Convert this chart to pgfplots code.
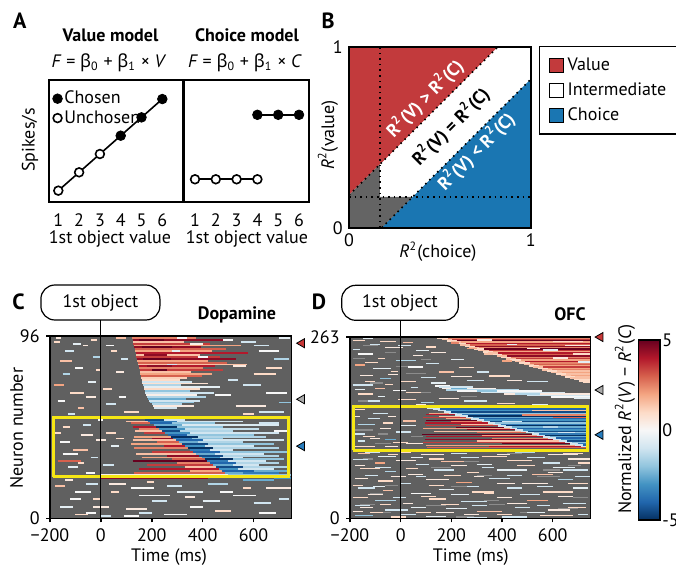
\documentclass[border=0pt]{standalone}
\usepackage{fontspec}
\setmainfont{PT Sans}
\newfontfamily\grk{Noto Sans}
\usepackage{pgfplots}
\pgfplotsset{compat=1.18}
\definecolor{vred}{RGB}{194,58,60}
\definecolor{cblue}{RGB}{26,118,178}
\definecolor{bgray}{RGB}{100,100,100}
\definecolor{hgray}{RGB}{96,96,96}
\definecolor{ngray}{RGB}{140,140,140}
\definecolor{hyel}{RGB}{245,230,20}
\definecolor{trired}{RGB}{200,55,55}
\definecolor{trigray}{RGB}{170,170,170}
\definecolor{triblue}{RGB}{40,125,190}
\pgfplotsset{
  /pgf/number format/assume math mode=true,
  colormap={rdbu}{rgb255=(5,48,97) rgb255=(33,102,172) rgb255=(67,147,195) rgb255=(146,197,222) rgb255=(209,229,240) rgb255=(247,247,247) rgb255=(253,219,199) rgb255=(244,165,130) rgb255=(214,96,77) rgb255=(178,24,43) rgb255=(103,0,31)},
  hm/.style={scale only axis, anchor=south west, xmin=-200, xmax=750,
    axis background/.style={fill=hgray}, axis on top, tick align=outside,
    major tick length=2pt, xtick={-200,0,200,400,600},
    xticklabels={−200,0,200,400,600}, xtick pos=left, ytick pos=left,
    axis line style={line width=0.8pt}, tick style={line width=0.8pt, black},
    colormap name=rdbu, point meta min=-5, point meta max=5, clip=false},
  seg/.style={mark=none, point meta=explicit, quiver={u=\thisrow{u}, v=0, colored}},
  gseg/.style={mark=none, draw=ngray, quiver={u=\thisrow{u}, v=0}},
  tri/.style={only marks, mark=triangle*, mark size=2.6pt, mark options={rotate=90, draw=none, fill=#1}},
}
\begin{document}
\fontsize{9}{10.5}\selectfont
\begin{tikzpicture}
\path[use as bounding box] (0,0) rectangle (338pt,-284pt);

% ---------- Panel A : value model ----------
\begin{axis}[scale only axis, anchor=south west, at={(24.5pt,-101pt)},
  width=66.85pt, height=61pt, xmin=0.553, xmax=6.98, ymin=0.38, ymax=7.04,
  xtick={1,...,6}, ytick=\empty, major tick length=0pt,
  axis line style={line width=0.9pt}, xticklabel style={yshift=-2.5pt},
  legend style={at={(0.025,0.93)}, anchor=north west, draw=none, fill=none,
    inner sep=0pt, row sep=0pt, nodes={inner sep=1pt}},
  legend cell align=left,
  legend image code/.code={\draw[#1] plot coordinates {(2.3pt,0pt)};}]
\addplot[black, line width=0.8pt, forget plot] coordinates {(1,1)(2,2)(3,3)(4,4)(5,5)(6,6)};
\addplot[only marks, mark=*, mark size=2.4pt, black] coordinates {(4,4)(5,5)(6,6)};
\addlegendentry{Chosen}
\addplot[only marks, mark=*, mark size=2.2pt, mark options={fill=white, draw=black, line width=0.8pt}] coordinates {(1,1)(2,2)(3,3)};
\addlegendentry{Unchosen}
\end{axis}

% ---------- Panel A : choice model ----------
\begin{axis}[scale only axis, anchor=south west, at={(92.25pt,-101pt)},
  width=62.4pt, height=61pt, xmin=0.495, xmax=6.495, ymin=0.38, ymax=7.04,
  xtick={1,...,6}, ytick=\empty, major tick length=0pt,
  axis line style={line width=0.9pt}, xticklabel style={yshift=-2.5pt}]
\addplot[black, line width=0.8pt] coordinates {(1,1.62)(2,1.62)(3,1.62)(4,1.62)};
\addplot[black, line width=0.8pt] coordinates {(4,5.14)(5,5.14)(6,5.14)};
\addplot[only marks, mark=*, mark size=2.2pt, mark options={fill=white, draw=black, line width=0.8pt}] coordinates {(1,1.62)(2,1.62)(3,1.62)(4,1.62)};
\addplot[only marks, mark=*, mark size=2.4pt, black] coordinates {(4,5.14)(5,5.14)(6,5.14)};
\end{axis}

% ---------- Panel B ----------
\begin{axis}[scale only axis, anchor=south west, at={(174.5pt,-113.85pt)},
  width=90.85pt, height=90.5pt, xmin=0, xmax=1, ymin=0, ymax=1,
  xtick={0,1}, ytick={0,1}, major tick length=0pt, axis on top,
  axis line style={line width=0.9pt},
  legend style={at={(1,1)}, anchor=north west, xshift=4pt, yshift=0.5pt,
    draw=black, line width=0.8pt, inner xsep=4.5pt, inner ysep=3.5pt, row sep=0.8pt},
  legend cell align=left]
\addplot[fill=vred, draw=none, forget plot] coordinates {(0,0.18)(0,1)(0.82,1)(0,0.18)};
\addplot[fill=cblue, draw=none, forget plot] coordinates {(0.18,0)(1,0)(1,0.82)(0.18,0)};
\addplot[fill=bgray, draw=none, forget plot] coordinates {(0,0)(0,0.18)(0.17,0.35)(0.17,0.17)(0.35,0.17)(0.18,0)(0,0)};
\addplot[black, dotted, line width=0.8pt, forget plot] coordinates {(0.17,0)(0.17,1)};
\addplot[black, dotted, line width=0.8pt, forget plot] coordinates {(0,0.17)(1,0.17)};
\addplot[black, dotted, line width=0.8pt, forget plot] coordinates {(0,0.18)(0.82,1)};
\addplot[black, dotted, line width=0.8pt, forget plot] coordinates {(0.18,0)(1,0.82)};
\node[rotate=45, text=white, font=\bfseries] at (axis cs:0.418,0.714) {R\textsuperscript{2}(V) > R\textsuperscript{2}(C)};
\node[rotate=45, text=black, font=\bfseries] at (axis cs:0.56,0.558) {R\textsuperscript{2}(V) = R\textsuperscript{2}(C)};
\node[rotate=45, text=white, font=\bfseries] at (axis cs:0.70,0.42) {R\textsuperscript{2}(V) < R\textsuperscript{2}(C)};
\addlegendimage{legend image code/.code={\draw[fill=vred, draw=black, line width=0.6pt] (0pt,-3.5pt) rectangle (7pt,3.5pt);}}
\addlegendentry{Value}
\addlegendimage{legend image code/.code={\draw[fill=white, draw=black, line width=0.6pt] (0pt,-3.5pt) rectangle (7pt,3.5pt);}}
\addlegendentry{Intermediate}
\addlegendimage{legend image code/.code={\draw[fill=cblue, draw=black, line width=0.6pt] (0pt,-3.5pt) rectangle (7pt,3.5pt);}}
\addlegendentry{Choice}
\end{axis}

% ---------- Panel C : Dopamine ----------
\begin{axis}[hm, at={(25pt,-259.15pt)}, width=120.85pt, height=91.15pt,
  ymin=0, ymax=96, ytick={0,96}]
\addplot[seg, line width=0.95pt] table[meta=m] {
x y u m
120 96 330 4
122 95 250 2.5
125 94 380 4.5
126 93 200 1.5
128 92 300 3.5
130 91 420 2
132 90 260 4.5
133 89 360 3
135 88 300 2
137 87 440 4
138 86 250 1.5
140 85 330 3.5
142 84 390 4.5
143 83 280 2
145 82 350 3
146 81 430 1.5
148 80 300 4
150 79 250 2.5
152 78 330 3.5
153 77 200 1.5
155 76 280 2
157 75 240 3
158 74 180 1.2
160 73 150 1
150 94 100 5
160 90 120 5
170 86 90 4.5
165 84 110 5
180 80 100 4.5
200 78 60 5
300 95 40 0
350 92 50 0.3
280 88 30 -0.5
380 85 40 0
260 81 40 -1
160 72 200 -1
162 71 260 0.8
165 70 150 -1.5
168 69 300 -0.5
170 68 220 1
172 67 180 -2
175 66 270 -1
178 65 200 0.3
182 64 230 -1.5
186 63 150 -2.5
190 62 200 -1
195 61 170 -2
200 60 120 -1.5
205 59 160 0.5
210 58 90 -1
130 53 30 2
162 53 98 -3
260 53 160 -1.5
173 52 77 -4.5
250 52 80 -1
100 51 84 1.5
184 51 116 -3.5
300 51 260 -1
120 50 75 3
195 50 85 -4
280 50 170 -2
207 49 113 -2.5
320 49 380 -0.8
125 48 93 4
218 48 82 -5
300 48 180 -2
150 47 79 2.5
229 47 101 -3
330 47 290 -1.2
135 46 105 1.5
240 46 70 -4.5
310 46 210 -1.5
170 45 81 3.5
251 45 99 -3
350 45 350 -1
262 44 78 -4
340 44 260 -2
130 43 144 2
274 43 106 -5
380 43 270 -1.5
200 42 85 4.5
285 42 75 -3.5
360 42 120 -2
125 41 171 1.5
296 41 104 -4
400 41 320 -1
220 40 87 3
307 40 73 -2.5
380 40 180 -1.5
120 39 198 2
318 39 102 -4.5
420 39 260 -2
250 38 80 4
330 38 80 -3
410 38 190 -1
130 37 211 2.5
341 37 99 -5
440 37 260 -1.5
352 36 78 -3.5
430 36 90 -1
200 35 163 3.5
363 35 107 -4
470 35 270 -2
140 34 234 1.5
374 34 76 -2.5
450 34 190 -1
260 33 126 4.5
386 33 94 -4.5
480 33 220 -1.5
160 32 237 2
397 32 73 -3
470 32 90 -1
280 31 128 3
408 31 112 -5
520 31 200 -2
125 30 294 5
419 30 81 -3.5
500 30 150 -1
300 29 130 2.5
430 29 100 -4
530 29 170 -1.5
180 28 262 3.5
442 28 78 -2.5
520 28 100 -1
330 27 123 1.5
453 27 107 -4.5
560 27 180 -1.5
150 26 314 4
464 26 76 -3
540 26 140 -1
350 25 125 2
475 25 125 -4
600 25 145 -2.5
130 24 356 3
486 24 74 -2.5
560 24 140 -3.5
0 23 500 0.3
500 23 250 -2
0 22 420 1
0 21 420 4.5
-185 93 25 1
-140 88 35 -1
-70 91 20 0.5
-160 83 45 1.5
-100 79 30 0
-30 85 25 -1.5
-185 70 40 2
-120 66 55 1
-50 72 30 -0.5
10 68 35 1
-170 62 30 0
-90 58 25 1.5
20 60 40 -1
60 77 30 0.5
40 88 25 1
550 93 60 -1
620 88 80 0
680 84 60 -1.5
520 80 50 0.5
600 76 90 1
560 70 70 -1
650 66 80 0
700 61 50 -2
530 59 120 0.5
620 56 100 -1
-150 48 30 1
-80 44 50 0.5
-160 40 40 0
-110 36 60 1.5
-40 32 30 -1
-170 30 90 3
-130 27 40 -0.5
-60 24 35 0
20 45 40 1
40 38 30 -0.5
-180 17 40 1.5
-100 14 60 0
-30 10 30 1
-160 6 50 -0.5
-60 3 40 0
30 18 70 0.5
120 16 90 0
150 12 120 0
200 9 60 -1
100 5 80 0.5
250 2 90 0
300 14 100 -0.5
420 18 80 -1.5
520 12 90 0
600 8 70 -1
650 16 100 0.5
560 20 120 -2.5
680 21 70 -3
450 4 60 1
350 6 50 0
90 1 60 0
-175 95 20 0.5
-110 92 30 -0.5
-40 94 25 1
20 91 30 0
60 95 40 1.5
80 84 25 -1
-20 78 20 1
-150 76 30 -1.5
-60 64 40 0.5
70 64 30 0
90 56 60 1
-130 55 30 -1
-10 52 20 0
-180 45 25 1
-70 49 30 -1
-20 41 40 0.5
60 42 30 1
-150 34 60 0
-90 29 25 1
10 28 40 -1
-140 20 30 0.5
-60 18 50 -1
40 14 30 1
-120 10 40 0
-30 6 60 0.5
180 19 30 1
260 17 60 -1
330 11 40 0.5
400 9 70 -0.5
470 14 50 0
560 16 30 1
700 10 40 -1
620 3 70 0
150 3 50 -1
480 94 40 0
600 91 60 -1
700 95 45 -0.5
650 79 60 1
500 73 40 -1
450 65 60 0
620 50 80 -1
680 46 50 0
560 55 40 1
-100 2 50 1
0 1 40 -1
};
\addplot[hyel, line width=1.5pt] coordinates {(-187,21.9)(736,21.9)(736,53.2)(-187,53.2)(-187,21.9)};
\addplot[black, line width=0.6pt] coordinates {(0,0)(0,104.4)};
\addplot[tri=trired] coordinates {(790,92.2)};
\addplot[tri=trigray] coordinates {(790,62.7)};
\addplot[tri=triblue] coordinates {(790,38)};
\end{axis}

% ---------- Panel D : OFC ----------
\begin{axis}[hm, at={(175pt,-259.15pt)}, width=120.35pt, height=90.8pt,
  ymin=0, ymax=263, ytick={0,263}]
\addplot[gseg, line width=0.6pt] table {
x y u
-150 250 60
-60 240 40
20 210 80
-120 196 50
60 182 60
-40 162 40
120 150 30
-180 128 70
40 118 50
-100 108 60
-150 86 40
120 74 80
300 62 60
-60 48 50
200 46 90
480 34 70
-160 20 60
100 18 80
350 20 60
620 14 80
-90 8 50
220 2 70
540 60 90
660 76 50
420 94 60
-190 232 50
-20 220 60
80 230 40
-170 170 50
240 176 60
-90 122 40
30 100 70
250 82 60
560 70 70
-120 36 50
330 26 60
470 8 80
680 30 60
};
\addplot[seg, line width=0.6pt] table[meta=m] {
x y u m
-190 258 50 1
-120 252 40 -1
-60 247 70 0.5
10 255 40 1.5
60 243 50 -0.5
-170 238 60 0
-90 232 30 1
-20 228 80 -1.5
50 236 40 0.5
-180 222 40 2
-110 217 70 -0.5
-40 213 30 1
30 219 60 0
100 224 50 -1
150 212 60 1.5
200 205 80 0.5
260 200 70 -1
-160 207 50 0.5
-80 202 40 -2
0 198 60 1
-190 193 80 -1
-100 188 40 1.5
-30 185 50 0
40 190 30 -1
-170 180 60 1
-90 176 30 -0.5
-10 172 70 1
80 168 50 -1.5
150 174 80 0.5
250 170 90 -1
380 166 70 1
520 164 60 -0.5
-180 158 40 1
-110 152 60 -1
-50 147 30 0.5
10 141 50 1.5
-170 136 70 -1.5
-80 130 40 0.5
-20 125 60 -1
-150 119 50 1
-60 114 40 -2.5
20 108 70 0.5
-180 104 80 1
-100 100 40 -1
-170 94 50 1.5
-90 90 70 -0.5
0 96 40 1
80 92 90 0.5
200 94 60 -1
320 90 100 1
450 96 80 -1.5
580 92 120 0.5
-190 85 60 -1
-100 80 40 2
-20 84 80 0.5
60 78 50 -1
160 82 90 1.5
300 78 60 -0.5
420 84 100 1
560 80 70 -1
660 86 90 0.5
-160 72 80 1
-60 68 40 -1.5
30 64 60 0.5
130 70 80 -1
260 66 50 1
380 70 120 -0.5
520 64 80 1.5
640 70 100 -1
-180 58 50 0.5
-90 54 60 1
0 50 40 -1
100 56 90 0.5
220 52 60 2
350 58 80 -1
480 50 100 0.5
620 56 60 -1.5
-170 44 70 -1
-70 40 40 1.5
40 36 80 0
150 42 60 -0.5
280 38 90 1
420 44 60 -1
560 38 120 1
680 44 60 -0.5
-190 30 60 1
-100 26 80 -1.5
10 22 40 0.5
110 28 70 1
240 24 100 -1
380 30 60 0.5
500 26 80 2
640 22 90 -1
-160 16 50 0.5
-60 12 90 -1
60 8 60 1
180 14 80 -0.5
300 10 100 1.5
450 16 60 -1
580 12 90 0.5
700 6 40 -1
-180 4 70 -2
-40 2 60 1
100 3 80 -0.5
250 5 60 0.5
400 2 100 -1
550 4 70 1
-150 261 40 -0.5
-80 256 60 1
-10 250 50 -1
60 262 30 0.5
100 248 40 1
-190 244 30 -1
120 240 60 0.5
-140 226 50 1
200 230 50 -0.5
230 218 60 1
300 212 50 -1
-50 208 40 0.5
80 204 60 -1
350 206 80 1
420 200 60 0.5
500 198 80 -1
-140 198 40 1
120 196 60 -0.5
-60 194 30 1
-180 186 40 -0.5
20 182 60 1
-130 170 50 -1
60 164 40 0.5
-190 148 30 0.5
-130 144 50 -1
-70 138 40 1
0 134 60 -0.5
-190 122 50 -1
-120 116 40 0.5
-30 110 60 1
-170 112 30 -1
-60 104 50 0.5
-140 96 60 -1
-50 92 40 1
40 88 50 -0.5
110 86 60 1
240 88 70 -1
380 92 50 0.5
500 88 70 -1
640 94 80 1
-180 76 40 0.5
-100 74 60 -1
20 72 50 1
200 76 60 0.5
320 74 50 -1
460 76 70 1
600 74 90 -0.5
700 80 50 1
-140 62 50 -1
-40 60 60 0.5
60 60 40 -1
170 62 70 1
290 60 40 0.5
420 62 60 -1
580 66 60 0.5
690 60 60 -1
-190 48 40 1
-110 46 50 -0.5
110 48 60 1
260 46 50 -1
380 50 70 0.5
540 46 60 -1
660 50 80 1
-130 34 60 0.5
-30 30 50 -1
80 32 60 1
200 34 70 -0.5
330 36 40 1
470 34 80 -1
620 32 60 0.5
-180 18 60 -1
-80 20 40 1
40 16 60 -0.5
160 20 70 1
280 18 60 -1
420 22 80 0.5
540 18 50 -1
660 16 70 1
-120 8 50 1
0 6 60 -1
140 8 70 0.5
260 1 80 -1
380 6 60 1
500 8 70 -0.5
620 4 60 1
-190 10 40 0.5
};
\addplot[seg, line width=0.8pt] table[meta=m] {
x y u m
127 263 40 1.5
167 263 583 4.5
145 261 40 1
185 261 565 2.5
163 259 40 1.5
203 259 547 3.5
181 257 40 1
221 257 529 5
199 255 40 1.5
239 255 511 2
217 253 40 1
257 253 493 4
235 251 40 1.5
275 251 475 3
253 249 40 1
293 249 457 4.5
271 247 40 1.5
311 247 439 2.5
289 245 40 1
329 245 421 5
307 243 40 1.5
347 243 403 3.5
325 241 40 1
365 241 385 2
343 239 40 1.5
383 239 367 4
361 237 40 1
401 237 349 3
379 235 40 1.5
419 235 331 4.5
397 233 40 1
437 233 313 2.5
415 231 40 1.5
455 231 295 3.5
433 229 40 1
473 229 277 2
451 227 40 1.5
491 227 259 4
469 225 40 1
509 225 241 2.5
487 223 40 1.5
527 223 223 3
505 221 40 1
545 221 205 2
523 219 40 1.5
563 219 187 3.5
541 217 40 1
581 217 169 2
559 215 40 1.5
599 215 151 2.5
577 213 40 1
617 213 133 1.5
595 211 40 1.5
635 211 115 2
613 209 40 1
653 209 97 1.5
631 207 40 1.5
671 207 79 2
649 205 40 1
689 205 61 1.5
667 203 40 1.5
707 203 43 1.5
685 201 40 1
725 201 25 1
703 199 47 1
721 197 29 1
520 262 80 0.3
600 256 120 1
650 250 100 0.5
560 244 60 -0.5
680 238 70 1
300 258 60 0.5
420 252 40 -0.5
500 246 50 0.3
600 232 60 0.5
700 226 50 -0.5
110 262 30 2
200 254 30 2.5
260 246 40 2
330 238 35 1.5
400 228 40 2
137 192 58 0
151 190 135 -1
165 188 211 0.3
179 186 288 -1.5
224 184 333 0
316 182 332 -0.8
408 180 342 0.5
500 178 250 -1
592 176 158 0
684 174 66 -0.5
200 188 60 -2.5
300 184 80 -2
450 180 100 -1.5
105 160 30 -1
135 160 605 -2.5
126 158 30 -1
156 158 584 -4
148 156 30 -1
178 156 562 -3
170 154 30 -1
200 154 540 -4.5
191 152 30 -1
221 152 519 -2
213 150 30 -1
243 150 497 -3.5
235 148 30 -1
265 148 475 -5
256 146 30 -1
286 146 454 -2.5
278 144 30 -1
308 144 432 -4
300 142 30 -1
330 142 410 -3
321 140 30 -1
351 140 389 -4.5
343 138 30 -1
373 138 367 -2
365 136 30 -1
395 136 345 -3.5
386 134 30 -1
416 134 324 -5
408 132 30 -1
438 132 302 -2.5
430 130 30 -1
460 130 280 -4
452 128 30 -1
482 128 258 -3
473 126 30 -1
503 126 237 -4.5
495 124 30 -1
525 124 215 -2
517 122 30 -1
547 122 193 -3.5
538 120 30 -1
568 120 172 -5
560 118 30 -1
590 118 150 -2.5
582 116 30 -1
612 116 128 -4
603 114 30 -1
633 114 107 -3
625 112 30 -1
655 112 85 -4.5
647 110 30 -1
677 110 63 -2
668 108 30 -1
698 108 42 -3.5
690 106 30 -1
720 106 20 -4
712 104 28 -1
480 150 260 2.5
520 156 220 1.5
600 146 140 3
400 140 80 -1
560 132 60 -1.5
620 124 70 -1
};
\addplot[seg, line width=0.55pt] table[meta=m] {
x y u m
110 152 81 2
100 150 113 4
150 148 85 1.5
90 146 166 3.5
180 144 98 2
100 142 200 5
200 140 121 2.5
95 138 248 4
240 136 125 1.5
100 134 286 3.5
220 132 188 5
90 130 340 2
260 128 192 4.5
130 126 343 1.5
300 124 195 3
85 122 432 5
320 120 218 2
100 118 460 4
360 116 222 2.5
95 114 508 4.5
300 112 325 1.5
90 110 557 3.5
400 108 268 5
100 106 590 2
350 104 362 4
105 102 628 3
200 100 500 2
};
\addplot[hyel, line width=1.5pt] coordinates {(-187,98.9)(736,98.9)(736,162.6)(-187,162.6)(-187,98.9)};
\addplot[black, line width=0.6pt] coordinates {(0,0)(0,285.5)};
\addplot[tri=trired] coordinates {(788,262.5)};
\addplot[tri=trigray] coordinates {(788,185.8)};
\addplot[tri=triblue] coordinates {(788,120.9)};
\end{axis}

% ---------- colour bar ----------
\begin{axis}[scale only axis, anchor=south west, at={(319.15pt,-260pt)},
  width=10.85pt, height=90pt, xmin=0, xmax=1, ymin=-5, ymax=5,
  xtick=\empty, ytick={-5,0,5}, yticklabels={-5,0,5}, yticklabel pos=right,
  major tick length=0pt, axis line style={line width=0.8pt}, axis on top,
  colormap name=rdbu, point meta min=-5, point meta max=5,
  yticklabel style={xshift=-2pt}]
\addplot[surf, shader=interp, mesh/rows=2, point meta=y] coordinates {(0,-5)(1,-5)(0,5)(1,5)};
\end{axis}

% ---------- text ----------
\node[font=\fontsize{11}{12}\selectfont\bfseries] at (9.85pt,-10.4pt) {A};
\node[font=\fontsize{11}{12}\selectfont\bfseries] at (164pt,-10.4pt) {B};
\node[font=\fontsize{11}{12}\selectfont\bfseries] at (9.2pt,-150.8pt) {C};
\node[font=\fontsize{11}{12}\selectfont\bfseries] at (159.5pt,-151pt) {D};
\node[font=\bfseries] at (55.25pt,-17.5pt) {Value model};
\node[font=\bfseries] at (123.5pt,-17.5pt) {Choice model};
\node at (54.5pt,-31.5pt) {\textit{F} = {\grk β}\textsubscript{0} + {\grk β}\textsubscript{1} × \textit{V}};
\node at (122.5pt,-31.5pt) {\textit{F} = {\grk β}\textsubscript{0} + {\grk β}\textsubscript{1} × \textit{C}};
\node[rotate=90] at (15pt,-70pt) {Spikes/s};
\node at (55pt,-119.5pt) {1st object value};
\node at (123.5pt,-119.5pt) {1st object value};
\node at (219pt,-125.85pt) {\textit{R}\textsuperscript{2}(choice)};
\node[rotate=90] at (164pt,-67.5pt) {\textit{R}\textsuperscript{2}(value)};
\node at (84.5pt,-278.35pt) {Time (ms)};
\node at (235.4pt,-278.35pt) {Time (ms)};
\node[rotate=90] at (8.35pt,-214pt) {Neuron number};
\node[font=\bfseries] at (118.5pt,-157.5pt) {Dopamine};
\node[font=\bfseries] at (285pt,-157pt) {OFC};
\node[draw, rounded corners=7pt, line width=0.6pt, minimum width=59.5pt, minimum height=17.5pt] at (50.2pt,-151.25pt) {1st object};
\node[draw, rounded corners=7pt, line width=0.6pt, minimum width=58.3pt, minimum height=17.5pt] at (200pt,-151.4pt) {1st object};
\node[rotate=90] at (312.5pt,-209.5pt) {Normalized \textit{R}\textsuperscript{2}(\textit{V}) − \textit{R}\textsuperscript{2}(\textit{C})};
\end{tikzpicture}
\end{document}
